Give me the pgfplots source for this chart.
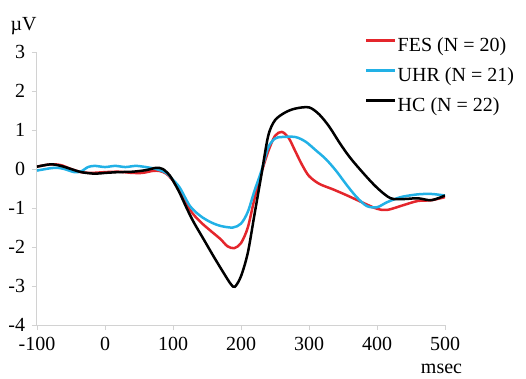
\documentclass[border=0pt]{standalone}
\usepackage{fontspec}
\setmainfont{Liberation Serif}
\usepackage{pgfplots}
\pgfplotsset{compat=1.18}
\definecolor{fesred}{RGB}{228,38,44}
\definecolor{uhrcyan}{RGB}{34,177,230}
\definecolor{axgray}{RGB}{210,210,210}
\begin{document}
\fontsize{20}{24}\selectfont
\begin{tikzpicture}[x=1pt,y=1pt]
\useasboundingbox (-37pt,-53pt) rectangle (489pt,325pt);
\begin{axis}[
  scale only axis, width=408pt, height=273pt,
  xmin=-100, xmax=500, ymin=-4, ymax=3,
  axis x line*=bottom, axis y line*=left,
  axis line style={draw=axgray, line width=1pt},
  xtick={-100,0,100,200,300,400,500},
  ytick={-4,-3,-2,-1,0,1,2,3},
  tick style={draw=axgray, line width=0.8pt},
  tick align=outside, major tick length=5pt,
  /pgf/number format/assume math mode=true,
  ticklabel style={font=\fontsize{20}{24}\selectfont},
  every axis plot/.append style={line width=2.5pt, smooth, tension=0.5},
  legend style={at={(axis description cs:0.804,1.057)}, anchor=north west,
    draw=none, fill=none, inner sep=0pt, row sep=10pt,
    font=\fontsize{20}{24}\selectfont,
    nodes={inner sep=1pt, text height=14pt, text depth=4pt}},
  legend cell align=left,
  legend image code/.code={\draw[#1] (0pt,6pt) -- (29pt,6pt);},
]
\addplot[fesred] coordinates {
(-100,0.06) (-80,0.12) (-65,0.10) (-50,0.0) (-35,-0.08) (-20,-0.10) (0,-0.08)
(20,-0.07) (40,-0.10) (55,-0.10) (70,-0.05) (80,-0.05) (90,-0.12) (100,-0.30)
(110,-0.56) (125,-1.05) (140,-1.35) (155,-1.58) (170,-1.80) (180,-1.98) (190,-2.03)
(200,-1.90) (210,-1.50) (220,-0.75) (230,-0.10) (240,0.45) (250,0.85) (260,0.95)
(270,0.80) (280,0.45) (290,0.10) (300,-0.18) (315,-0.38) (335,-0.52) (355,-0.67)
(380,-0.87) (400,-1.02) (415,-1.05) (440,-0.92) (460,-0.82) (480,-0.80) (500,-0.72)
};
\addlegendentry{FES (N = 20)}
\addplot[uhrcyan] coordinates {
(-100,-0.04) (-80,0.02) (-70,0.03) (-60,0.0) (-45,-0.08) (-35,-0.06) (-25,0.05)
(-15,0.08) (0,0.05) (15,0.08) (30,0.05) (45,0.08) (60,0.05) (75,0.0) (90,-0.10)
(100,-0.28) (110,-0.48) (125,-0.95) (140,-1.20) (155,-1.36) (170,-1.46) (188,-1.50)
(200,-1.40) (210,-1.10) (220,-0.55) (230,-0.05) (240,0.55) (250,0.78) (260,0.82)
(280,0.82) (295,0.70) (310,0.48) (325,0.25) (340,-0.05) (355,-0.40) (370,-0.72)
(385,-0.95) (400,-0.98) (415,-0.85) (435,-0.72) (460,-0.65) (480,-0.64) (500,-0.68)
};
\addlegendentry{UHR (N = 21)}
\addplot[black] coordinates {
(-100,0.06) (-80,0.12) (-65,0.08) (-50,0.0) (-35,-0.08) (-15,-0.12) (0,-0.10)
(20,-0.08) (40,-0.07) (60,-0.03) (75,0.03) (85,0.0) (95,-0.16) (102,-0.36)
(110,-0.62) (120,-1.00) (130,-1.35) (145,-1.80) (160,-2.25) (175,-2.68) (185,-2.95)
(191,-3.02) (200,-2.75) (210,-2.15) (220,-1.15) (230,-0.15) (240,0.85) (250,1.25)
(265,1.45) (280,1.55) (300,1.58) (315,1.40) (330,1.08) (345,0.67) (360,0.30)
(380,-0.11) (400,-0.48) (420,-0.75) (440,-0.77) (460,-0.75) (480,-0.80) (500,-0.68)
};
\addlegendentry{HC (N = 22)}
\end{axis}
\node[anchor=base, inner sep=0pt] at (-13.5pt,294.5pt) {µV};
\node[anchor=base, inner sep=0pt] at (404.5pt,-48pt) {msec};
\end{tikzpicture}
\end{document}
